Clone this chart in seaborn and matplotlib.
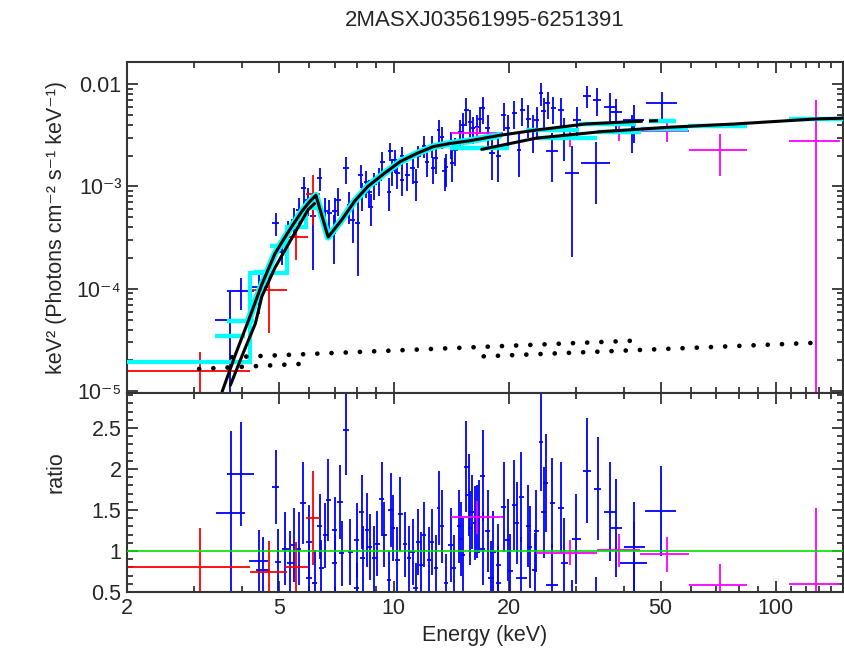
import numpy as np
import pandas as pd
import matplotlib
matplotlib.use("Agg")
import matplotlib.pyplot as plt
import seaborn as sns
from matplotlib.ticker import FixedLocator, FixedFormatter, NullFormatter

sns.set_theme(style="ticks")
plt.rcParams['font.family'] = ['Liberation Sans', 'DejaVu Sans']

# ---- data ----
# blue instrument, upper panel: energy, half bin width, flux (keV^2 ph/cm2/s/keV), relative error
blue_top = [
    (3.73, 0.32, 5.0e-5, 0.85), (3.97, 0.32, 9.5e-5, 0.35), (4.43, 0.25, 1.03e-4, 0.45),
    (4.9, 0.1, 4.4e-4, 0.25), (5.08, 0.1, 2.3e-4, 0.25), (5.28, 0.1, 3.5e-4, 0.3),
    (5.47, 0.1, 4.7e-4, 0.3), (5.63, 0.1, 5.9e-4, 0.3), (5.8, 0.1, 9.6e-4, 0.3),
    (5.96, 0.1, 7.4e-4, 0.3), (6.15, 0.1, 5.1e-4, 0.7), (6.4, 0.1, 1.2e-3, 0.25),
    (6.62, 0.1, 5.7e-4, 0.35), (6.78, 0.1, 5.5e-4, 0.35), (6.97, 0.1, 3.5e-4, 0.5),
    (7.0, 0.1, 5.7e-4, 0.35), (7.14, 0.12, 7.4e-4, 0.3), (7.5, 0.12, 1.5e-3, 0.3),
    (7.65, 0.12, 6.6e-4, 0.35), (7.8, 0.12, 4.7e-4, 0.4), (8.05, 0.12, 4.4e-4, 0.7),
    (8.2, 0.12, 1.3e-3, 0.25), (8.24, 0.12, 8.3e-4, 0.3), (8.45, 0.12, 1.1e-3, 0.3),
    (8.63, 0.12, 8.9e-4, 0.3), (8.7, 0.12, 6.3e-4, 0.35), (8.9, 0.14, 1.05e-3, 0.3),
    (9.16, 0.14, 1.16e-3, 0.3), (9.34, 0.14, 1.75e-3, 0.25), (9.72, 0.14, 8.9e-4, 0.35),
    (9.8, 0.14, 2.2e-3, 0.2), (9.92, 0.14, 1.44e-3, 0.3), (10.06, 0.14, 1.8e-3, 0.25),
    (10.2, 0.15, 1.34e-3, 0.3), (10.5, 0.15, 1.96e-3, 0.25), (10.5, 0.15, 1.16e-3, 0.3),
    (10.85, 0.15, 1.29e-3, 0.3), (11.2, 0.15, 1.5e-3, 0.3), (11.4, 0.15, 1.1e-3, 0.35),
    (11.6, 0.15, 2.0e-3, 0.25), (12.0, 0.15, 2.5e-3, 0.25), (12.2, 0.15, 1.75e-3, 0.3),
    (12.6, 0.15, 2.5e-3, 0.25), (12.7, 0.15, 1.5e-3, 0.3), (12.9, 0.15, 1.88e-3, 0.3),
    (13.1, 0.15, 3.55e-3, 0.25), (13.4, 0.15, 3.07e-3, 0.25), (13.6, 0.2, 1.4e-3, 0.35),
    (13.7, 0.2, 1.53e-3, 0.35), (14.1, 0.2, 2.63e-3, 0.3), (14.2, 0.2, 1.68e-3, 0.35),
    (14.5, 0.2, 2.27e-3, 0.3), (14.9, 0.2, 3.4e-3, 0.3), (15.2, 0.2, 4.0e-3, 0.3),
    (15.5, 0.2, 5.6e-3, 0.3), (15.8, 0.2, 4.3e-3, 0.3), (16.1, 0.2, 3.7e-3, 0.3),
    (16.5, 0.2, 3.8e-3, 0.3), (16.8, 0.2, 4.6e-3, 0.3), (17.1, 0.25, 5.8e-3, 0.3),
    (17.6, 0.25, 3.7e-3, 0.35), (18.1, 0.3, 2.1e-3, 0.45), (18.8, 0.3, 2.0e-3, 0.45),
    (19.4, 0.3, 5.0e-3, 0.3), (19.9, 0.3, 3.7e-3, 0.35), (20.7, 0.3, 5.2e-3, 0.3),
    (21.3, 0.3, 2.27e-3, 0.45), (21.7, 0.3, 5.6e-3, 0.3), (22.5, 0.35, 4.6e-3, 0.35),
    (23.1, 0.35, 3.55e-3, 0.4), (23.7, 0.35, 4.45e-3, 0.35), (24.3, 0.35, 8.1e-3, 0.25),
    (24.7, 0.35, 5.4e-3, 0.35), (25.3, 0.35, 6.5e-3, 0.3), (26.0, 0.9, 2.2e-3, 0.5),
    (26.2, 0.4, 5.8e-3, 0.3), (27.4, 0.5, 5.6e-3, 0.3), (28.0, 0.6, 3.2e-3, 0.45),
    (29.3, 1.2, 1.35e-3, 0.85), (30.2, 0.8, 4.45e-3, 0.35), (32.1, 0.8, 7.7e-3, 0.25),
    (33.9, 3.0, 1.68e-3, 0.6), (34.1, 0.8, 7.0e-3, 0.3), (36.9, 1.3, 6.0e-3, 0.35),
    (38.2, 1.3, 5.3e-3, 0.35), (42.5, 2.7, 4.45e-3, 0.4), (42.0, 3.5, 3.55e-3, 0.4),
    (50.4, 4.7, 6.5e-3, 0.3),
]

# blue instrument, ratio panel: energy, half bin width, ratio, error
blue_ratio = [
    (3.75, 0.33, 1.46, 1.0), (3.97, 0.32, 1.94, 0.63), (4.43, 0.25, 0.88, 0.38),
    (4.55, 0.2, 0.77, 0.4), (4.9, 0.1, 1.78, 0.45), (4.97, 0.1, 0.87, 0.4),
    (5.2, 0.1, 1.03, 0.45), (5.36, 0.1, 0.85, 0.4), (5.47, 0.1, 1.07, 0.45),
    (5.63, 0.1, 1.03, 0.45), (5.78, 0.1, 1.59, 0.5), (6.0, 0.1, 1.11, 0.45),
    (6.0, 0.12, 0.67, 0.4), (6.2, 0.1, 0.61, 0.4), (6.4, 0.1, 1.3, 0.4),
    (6.45, 0.1, 0.79, 0.35), (6.62, 0.1, 1.19, 0.4), (6.73, 0.1, 1.62, 0.5),
    (7.0, 0.12, 1.26, 0.4), (7.0, 0.12, 0.85, 0.35), (7.24, 0.12, 1.6, 0.45),
    (7.3, 0.12, 0.97, 0.4), (7.5, 0.12, 2.48, 0.55), (7.7, 0.12, 0.99, 0.4),
    (8.0, 0.12, 1.13, 0.45), (8.0, 0.12, 0.55, 0.3), (8.24, 0.12, 1.48, 0.45),
    (8.3, 0.12, 0.91, 0.4), (8.5, 0.12, 1.26, 0.45), (8.65, 0.12, 1.05, 0.4),
    (8.9, 0.14, 0.91, 0.4), (9.06, 0.14, 1.09, 0.4), (9.3, 0.14, 1.63, 0.45),
    (9.45, 0.14, 1.2, 0.4), (9.72, 0.14, 0.65, 0.35), (9.82, 0.14, 1.5, 0.45),
    (9.96, 0.14, 1.28, 0.4), (10.2, 0.15, 0.89, 0.4), (10.4, 0.15, 1.45, 0.45),
    (10.7, 0.15, 1.08, 0.4), (10.95, 0.15, 0.91, 0.4), (11.2, 0.15, 0.99, 0.4),
    (11.4, 0.15, 0.55, 0.3), (11.6, 0.15, 1.11, 0.4), (11.8, 0.15, 0.83, 0.4),
    (12.0, 0.15, 1.2, 0.4), (12.4, 0.15, 0.89, 0.4), (12.6, 0.15, 1.11, 0.4),
    (12.9, 0.15, 0.79, 0.4), (13.1, 0.15, 1.52, 0.45), (13.4, 0.15, 1.3, 0.45),
    (13.7, 0.2, 0.61, 0.35), (14.1, 0.2, 1.07, 0.45), (14.35, 0.2, 0.79, 0.4),
    (14.8, 0.2, 1.3, 0.45), (15.0, 0.2, 1.15, 0.45), (15.2, 0.2, 0.95, 0.45),
    (15.5, 0.2, 2.03, 0.55), (15.7, 0.2, 1.68, 0.5), (15.85, 0.2, 1.28, 0.45),
    (16.0, 0.2, 1.48, 0.45), (16.3, 0.2, 1.34, 0.45), (16.5, 0.2, 1.36, 0.45),
    (16.75, 0.2, 1.42, 0.45), (17.1, 0.25, 1.92, 0.55), (17.1, 0.25, 1.03, 0.45),
    (17.6, 0.25, 1.24, 0.5), (17.95, 0.3, 0.67, 0.45), (18.2, 0.3, 0.99, 0.5),
    (18.8, 0.3, 0.83, 0.5), (18.8, 0.3, 0.61, 0.45), (19.4, 0.3, 1.54, 0.55),
    (19.9, 0.3, 1.13, 0.5), (20.2, 0.3, 0.76, 0.45), (20.7, 0.3, 1.56, 0.55),
    (21.0, 0.3, 1.34, 0.5), (21.6, 0.3, 1.66, 0.55), (21.6, 0.7, 0.67, 0.5),
    (22.5, 0.35, 1.31, 0.5), (22.7, 0.35, 1.05, 0.5), (23.4, 0.35, 0.77, 0.45),
    (23.6, 0.35, 1.24, 0.5), (24.3, 0.35, 2.33, 0.6), (24.7, 0.35, 1.47, 0.55),
    (25.0, 0.35, 1.83, 0.6), (26.0, 0.4, 1.59, 0.55), (26.0, 0.9, 0.59, 0.5),
    (27.4, 0.5, 1.53, 0.55), (28.0, 0.6, 0.85, 0.55), (29.3, 1.2, 0.3, 0.35),
    (30.1, 0.8, 1.15, 0.55), (32.1, 0.8, 1.98, 0.64), (33.9, 3.0, 0.49, 0.19),
    (34.2, 0.8, 1.76, 0.63), (36.9, 1.3, 1.48, 0.6), (38.2, 1.3, 1.28, 0.6),
    (42.7, 2.7, 1.05, 0.55), (42.7, 3.5, 0.85, 0.5), (50.2, 4.7, 1.49, 0.55),
]

# red instrument: energy, bin low, bin high, flux, flux err, ratio, ratio err
red_e = [3.1, 4.7, 5.56, 6.15]
red_lo = [2.0, 4.2, 5.2, 5.9]
red_hi = [4.2, 5.24, 5.95, 6.4]
red_flux = [1.56e-5, 9.7e-5, 3.2e-4, 8.5e-4]
red_ferr = [0.88e-5, 6.0e-5, 1.3e-4, 4.3e-4]
red_ratio = [0.81, 0.75, 0.81, 1.4]
red_rerr = [0.47, 0.37, 0.3, 0.57]

# magenta instrument
mag_e = [16.5, 29.0, 39.0, 51.9, 71.5, 127.7]
mag_lo = [14.1, 23.6, 34.1, 44.2, 59.2, 108.6]
mag_hi = [19.3, 34.1, 44.2, 59.3, 84.0, 148.0]
mag_flux = [3.35e-3, 2.9e-3, 3.35e-3, 3.48e-3, 2.27e-3, 2.8e-3]
mag_ferr = [0.45e-3, 0.47e-3, 0.6e-3, 0.75e-3, 1.0e-3, 4.2e-3]
mag_ratio = [1.41, 0.98, 1.01, 0.96, 0.58, 0.6]
mag_rerr = [0.2, 0.15, 0.2, 0.21, 0.26, 0.93]

# model curves (black)
model_a_e = [3.55, 3.85, 4.17, 4.51, 4.88, 5.3, 5.74, 6.0, 6.25, 6.73, 7.3, 7.9, 8.55,
             9.44, 10.4, 11.5, 12.7, 14.0, 15.9, 18.9, 23.6, 31.8, 42.5]
model_a_y = [9.9e-6, 2.3e-5, 5.0e-5, 1.1e-4, 2.2e-4, 3.63e-4, 5.7e-4, 7.0e-4, 8.2e-4, 3.2e-4,
             4.7e-4, 7.2e-4, 1.0e-3, 1.34e-3, 1.75e-3, 2.1e-3, 2.45e-3, 2.62e-3, 2.8e-3,
             3.15e-3, 3.55e-3, 4.07e-3, 4.3e-3]
model_b_e = [3.73, 4.0, 4.34, 4.51, 4.88, 5.5, 5.96, 6.2]
model_b_y = [1.14e-5, 2.2e-5, 4.6e-5, 8.4e-5, 1.6e-4, 3.5e-4, 5.9e-4, 6.8e-4]
model_c_e = [17.0, 23.6, 35.1, 52.5, 78.0, 128.0, 150.0]
model_c_y = [2.3e-3, 2.96e-3, 3.43e-3, 3.78e-3, 4.07e-3, 4.56e-3, 4.64e-3]
model_d_e = [42.5, 50.4]
model_d_y = [4.3e-3, 4.4e-3]

# scattered power-law components (dotted)
scat_1_e, scat_1_y = [3.09, 6.1], [1.65e-5, 1.87e-5]
scat_2_e, scat_2_y = [3.77, 42.1], [2.15e-5, 3.11e-5]
scat_3_e, scat_3_y = [17.2, 127.0], [2.19e-5, 2.97e-5]

# folded model per bin (cyan)
cyan_red_edges = [2.0, 4.2, 5.24, 5.9, 6.4]
cyan_red_vals = [1.93e-5, 1.42e-4, 4.0e-4, 6.2e-4]
cyan_lo = [3.41, 3.66, 4.3, 4.75, 14.0, 22.2, 23.8, 30.6, 34.0, 44.5, 46.5, 59.0, 108.6]
cyan_hi = [4.08, 4.3, 4.75, 5.25, 20.0, 30.6, 34.0, 43.0, 44.5, 59.0, 55.0, 84.0, 150.0]
cyan_val = [3.43e-5, 4.8e-5, 1.45e-4, 2.6e-4, 2.36e-3, 3.55e-3, 3.0e-3, 4.1e-3, 3.4e-3,
            3.65e-3, 4.4e-3, 3.9e-3, 4.56e-3]

bt = pd.DataFrame(blue_top, columns=["e", "de", "flux", "frac"])
br = pd.DataFrame(blue_ratio, columns=["e", "de", "ratio", "err"])

BLUE, RED, MAG, CYAN = "#0000ff", "#ff0000", "#ff00ff", "#00ffff"
FS = 15.5

fig = plt.figure(figsize=(8.45, 6.48), dpi=100)
ax1 = fig.add_axes([0.1503, 0.3935, 0.847, 0.5108])
ax2 = fig.add_axes([0.1503, 0.0864, 0.847, 0.3071], sharex=ax1)

# ---- upper panel ----
ax1.set_xscale("log")
ax1.set_yscale("log")

ax1.errorbar(bt["e"], bt["flux"], xerr=bt["de"], yerr=bt["flux"] * bt["frac"],
             fmt="none", ecolor=BLUE, elinewidth=1.3, zorder=2)
red_xerr = [np.subtract(red_e, red_lo), np.subtract(red_hi, red_e)]
ax1.errorbar(red_e, red_flux, xerr=red_xerr, yerr=red_ferr, fmt="none",
             ecolor=RED, elinewidth=1.3, zorder=2)
mag_xerr = [np.subtract(mag_e, mag_lo), np.subtract(mag_hi, mag_e)]
ax1.errorbar(mag_e, mag_flux, xerr=mag_xerr, yerr=mag_ferr, fmt="none",
             ecolor=MAG, elinewidth=1.3, zorder=2)

ax1.stairs(cyan_red_vals, cyan_red_edges, color=CYAN, lw=3, zorder=3, baseline=None)
ax1.hlines(cyan_val, cyan_lo, cyan_hi, color=CYAN, lw=3.2, zorder=3)
ax1.plot(model_a_e[2:-3], model_a_y[2:-3], color=CYAN, lw=5, zorder=3,
         solid_joinstyle="round")

for ex, ey in [(model_a_e, model_a_y), (model_b_e, model_b_y), (model_c_e, model_c_y)]:
    sns.lineplot(x=ex, y=ey, ax=ax1, color="black", lw=2.2, sort=False,
                 estimator=None, zorder=4)
ax1.plot(model_d_e, model_d_y, color="black", lw=2.2, ls=(0, (3, 2)), zorder=4)

for ex, ey in [(scat_1_e, scat_1_y), (scat_2_e, scat_2_y), (scat_3_e, scat_3_y)]:
    ax1.plot(ex, ey, color="black", lw=3.4, ls=(0, (0.01, 3.0)),
             dash_capstyle="round", zorder=4)

ax1.set_xlim(2, 150)
ax1.set_ylim(9.6e-6, 0.0164)
ax1.yaxis.set_major_locator(FixedLocator([1e-5, 1e-4, 1e-3, 1e-2]))
ax1.yaxis.set_major_formatter(FixedFormatter(["10⁻⁵", "10⁻⁴", "10⁻³", "0.01"]))
ax1.set_ylabel("keV² (Photons cm⁻² s⁻¹ keV⁻¹)", fontsize=FS)
ax1.yaxis.set_label_coords(-0.084, 0.5)
plt.setp(ax1.get_xticklabels(), visible=False)

# ---- ratio panel ----
ax2.errorbar(br["e"], br["ratio"], xerr=br["de"], yerr=br["err"], fmt="none",
             ecolor=BLUE, elinewidth=1.3, zorder=2)
ax2.errorbar(red_e, red_ratio, xerr=red_xerr, yerr=red_rerr, fmt="none",
             ecolor=RED, elinewidth=1.3, zorder=2)
ax2.errorbar(mag_e, mag_ratio, xerr=mag_xerr, yerr=mag_rerr, fmt="none",
             ecolor=MAG, elinewidth=1.3, zorder=2)
ax2.axhline(1.0, color="#00e000", lw=1.2, zorder=5)

ax2.set_ylim(0.5, 2.927)
ax2.yaxis.set_major_locator(FixedLocator([0.5, 1, 1.5, 2, 2.5]))
ax2.yaxis.set_major_formatter(FixedFormatter(["0.5", "1", "1.5", "2", "2.5"]))
ax2.yaxis.set_minor_locator(FixedLocator(np.arange(0.5, 2.95, 0.1)))
ax2.set_ylabel("ratio", fontsize=FS)
ax2.yaxis.set_label_coords(-0.084, 0.6)

x_major = [2, 5, 10, 20, 50, 100]
x_minor = [3, 4, 6, 7, 8, 9, 30, 40, 60, 70, 80, 90] + list(range(110, 151, 10))
for ax in (ax1, ax2):
    ax.xaxis.set_major_locator(FixedLocator(x_major))
    ax.xaxis.set_minor_locator(FixedLocator(x_minor))
    ax.xaxis.set_minor_formatter(NullFormatter())
    ax.yaxis.set_minor_formatter(NullFormatter())
    ax.tick_params(which="both", direction="in", top=True, right=True,
                   width=1.3, color="#333333", labelsize=FS, pad=4)
    ax.tick_params(which="major", length=8)
    ax.tick_params(which="minor", length=4.5)
    for s in ax.spines.values():
        s.set_linewidth(1.5)
        s.set_color("#333333")
ax2.xaxis.set_major_formatter(FixedFormatter(["2", "5", "10", "20", "50", "100"]))
ax1.yaxis.set_minor_locator(FixedLocator(
    [m * 10.0 ** p for p in range(-6, -1) for m in range(2, 10)]))

fig.text(0.574, 0.969, "2MASXJ03561995-6251391", ha="center", va="center", fontsize=16)
fig.text(0.574, 0.019, "Energy (keV)", ha="center", va="center", fontsize=FS)

fig.savefig("out.png", dpi=100)
